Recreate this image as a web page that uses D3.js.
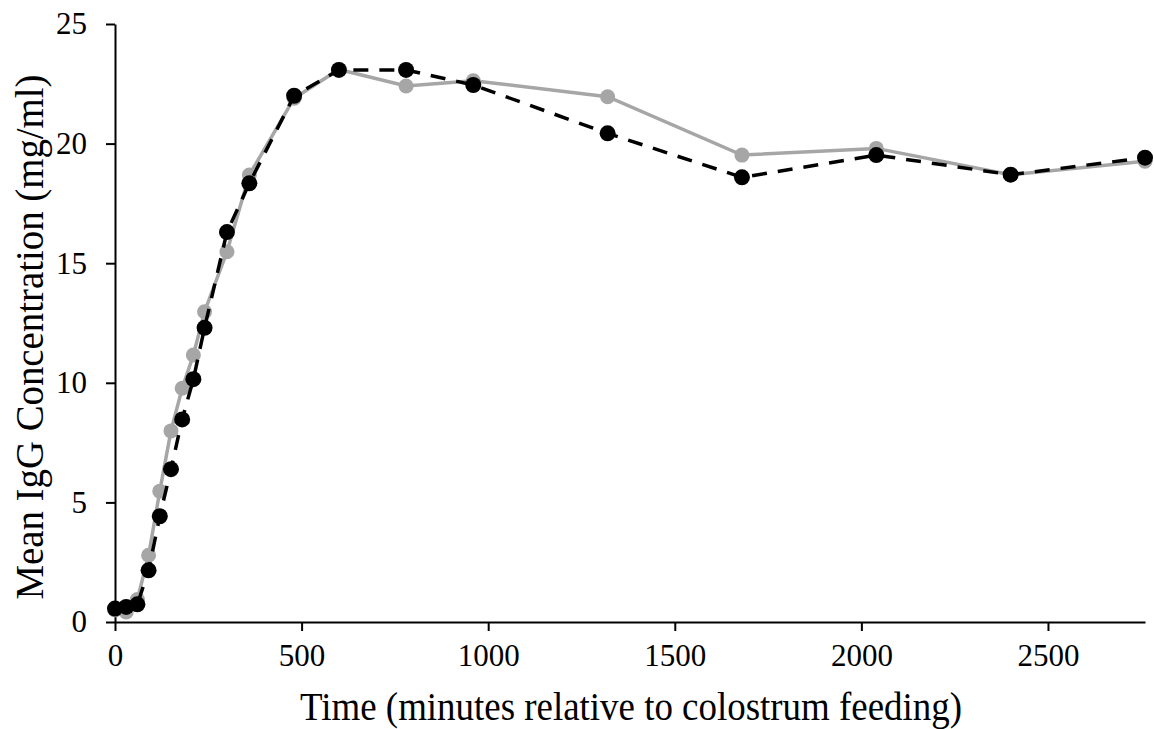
<!DOCTYPE html>
<html>
<head>
<meta charset="utf-8">
<script src="https://cdn.jsdelivr.net/npm/d3@7"></script>
<style>
  body { margin: 0; background: #fff; }
  text { font-family: "Liberation Serif", "Times New Roman", serif; fill: #000; }
</style>
</head>
<body>
<script>
// time points (minutes relative to colostrum feeding)
var times = [0, 30, 60, 90, 120, 150, 180, 210, 240, 300, 360, 480, 600, 780, 960, 1320, 1680, 2040, 2400, 2760];

// gray series (solid line)
var grayValues = [0.5, 0.42, 0.94, 2.79, 5.47, 7.99, 9.77, 11.16, 12.97, 15.48, 18.69, 21.9, 23.1, 22.41, 22.63, 21.96, 19.52, 19.8, 18.7, 19.26];

// black series (dashed line)
var blackValues = [0.56, 0.63, 0.74, 2.16, 4.42, 6.39, 8.47, 10.15, 12.3, 16.3, 18.34, 22.0, 23.08, 23.08, 22.45, 20.43, 18.59, 19.52, 18.7, 19.41];

var yTicks = [0, 5, 10, 15, 20, 25];
var xTicks = [0, 500, 1000, 1500, 2000, 2500];

var width = 1154,
    height = 729;

var svg = d3.select('body')
  .append('svg')
  .attr('width', width)
  .attr('height', height);

var x = d3.scaleLinear().domain([0, 2760]).range([115, 1145]);
var y = d3.scaleLinear().domain([0, 25]).range([622, 24]);

// axes
svg.append('g')
  .attr('transform', 'translate(115,0)')
  .call(d3.axisLeft(y).tickValues(yTicks).tickSize(9).tickSizeOuter(0).tickPadding(19));

svg.append('g')
  .attr('transform', 'translate(0,622)')
  .call(d3.axisBottom(x).tickValues(xTicks).tickSize(9).tickSizeOuter(0).tickPadding(13).tickFormat(d3.format('d')));

svg.selectAll('.domain, .tick line')
  .attr('stroke', '#000')
  .attr('stroke-width', 2);

svg.selectAll('.tick text')
  .style('font-family', '"Liberation Serif", "Times New Roman", serif')
  .style('font-size', '31px');

// axis titles
svg.append('text')
  .attr('x', 631)
  .attr('y', 720)
  .attr('text-anchor', 'middle')
  .attr('textLength', 662)
  .attr('lengthAdjust', 'spacingAndGlyphs')
  .style('font-size', '40px')
  .text('Time (minutes relative to colostrum feeding)');

svg.append('text')
  .attr('transform', 'translate(43,337) rotate(-90)')
  .attr('text-anchor', 'middle')
  .attr('textLength', 525)
  .attr('lengthAdjust', 'spacingAndGlyphs')
  .style('font-size', '40px')
  .text('Mean IgG Concentration (mg/ml)');

var line = d3.line()
  .x(function(d) { return x(d.t); })
  .y(function(d) { return y(d.v); });

function series(values) {
  return times.map(function(t, i) { return { t: t, v: values[i] }; });
}

var grayData = series(grayValues);
var blackData = series(blackValues);

// gray series
svg.append('path')
  .datum(grayData)
  .attr('d', line)
  .attr('fill', 'none')
  .attr('stroke', '#a6a6a6')
  .attr('stroke-width', 3.5);

svg.append('g')
  .selectAll('circle')
  .data(grayData)
  .enter()
  .append('circle')
  .attr('cx', function(d) { return x(d.t); })
  .attr('cy', function(d) { return y(d.v); })
  .attr('r', 7.5)
  .attr('fill', '#a6a6a6');

// black series
svg.append('path')
  .datum(blackData)
  .attr('d', line)
  .attr('fill', 'none')
  .attr('stroke', '#000')
  .attr('stroke-width', 3.5)
  .attr('stroke-dasharray', '15,11');

svg.append('g')
  .selectAll('circle')
  .data(blackData)
  .enter()
  .append('circle')
  .attr('cx', function(d) { return x(d.t); })
  .attr('cy', function(d) { return y(d.v); })
  .attr('r', 8)
  .attr('fill', '#000');
</script>
</body>
</html>
